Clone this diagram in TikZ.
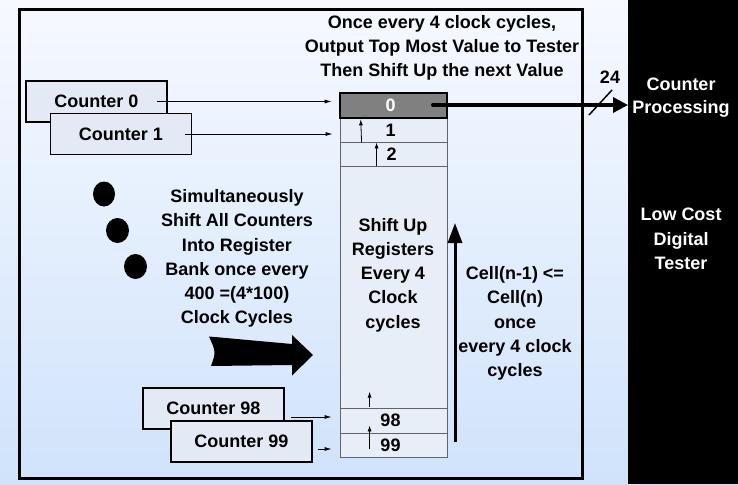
\documentclass[tikz,border=0pt]{standalone}
\usepackage{fontspec}
\setmainfont{Liberation Sans}
\usetikzlibrary{arrows.meta}
\definecolor{bgtop}{RGB}{246,249,255}
\definecolor{bgbot}{RGB}{208,227,251}
\definecolor{boxfill}{RGB}{228,234,245}
\definecolor{cellfill}{RGB}{232,238,247}
\definecolor{celldraw}{RGB}{100,100,100}
\definecolor{topcell}{RGB}{128,128,128}
\begin{document}
\begin{tikzpicture}[x=1pt,y=-1pt,
  txt/.style={font=\fontsize{18}{24.3}\selectfont\bfseries, align=center, inner sep=0pt},
  counterbox/.style={draw=black, line width=1.6pt, fill=boxfill, minimum width=141pt, minimum height=41pt, inner sep=0pt, font=\fontsize{18}{20}\selectfont\bfseries},
  cell/.style={draw=celldraw, line width=0.8pt, fill=cellfill, minimum width=107pt, inner sep=0pt, font=\fontsize{18}{20}\selectfont\bfseries},
  thinarr/.style={line width=0.8pt, -{Latex[length=7pt,width=4pt]}},
  smallarr/.style={line width=0.8pt, -{Latex[length=6pt,width=4pt]}}]
\useasboundingbox (0,0) rectangle (738,484);
% background
\shade[top color=bgtop, bottom color=bgbot] (0,0) rectangle (738,484);
% tester panel
\fill[black] (628,0) rectangle (738,484);
% frame
\draw[line width=3pt] (19.5,9.5) rectangle (582.5,478.5);

% register cells
\node[cell, minimum height=24pt] (c1) at (393.5,130) {\makebox[0pt]{\hspace{-6pt}1}};
\node[cell, minimum height=24pt] (c2) at (393.5,154) {\makebox[0pt]{\hspace{-4pt}2}};
\node[cell, minimum height=242pt] (cb) at (393.5,287) {};
\node[cell, minimum height=25pt] (c98) at (393.5,420.5) {\makebox[0pt]{\hspace{-6pt}98}};
\node[cell, minimum height=24pt] (c99) at (393.5,445) {\makebox[0pt]{\hspace{-6pt}99}};
\node[cell, draw=black, line width=2.6pt, fill=topcell, text=white, minimum height=25pt] (c0) at (393.5,105.5) {\makebox[0pt]{\hspace{-6pt}0}};

% small shift arrows
\draw[smallarr] ([xshift=22pt]c1.south west) -- ([xshift=22pt]c0.south west);
\draw[smallarr] ([xshift=37pt]c2.south west) -- ([xshift=37pt]c1.south west);
\draw[smallarr] ([xshift=30pt,yshift=1pt]c98.north west) -- ++(0,-15);
\draw[smallarr] ([xshift=30pt,yshift=8pt]c99.south west) -- ++(0,-24);

% counters
\node[counterbox] (cnt0) at (96.5,101.5) {};
\node[txt] (cnt0t) at (96.5,101.5) {Counter 0};
\node[counterbox] (cnt1) at (121,134) {Counter 1};
\node[counterbox] (cnt98) at (213.5,408.5) {};
\node[txt] (cnt98t) at (213.5,408.5) {Counter 98};
\node[counterbox] (cnt99) at (241.5,441.5) {Counter 99};

% counter arrows
\coordinate (a0s) at (157,101.5);
\draw[thinarr, shorten >=7pt] (a0s) -- (a0s -| c0.west);
\coordinate (a1s) at (185,134);
\draw[thinarr, shorten >=7pt] (a1s) -- (a1s -| c1.west);
\coordinate (a98s) at (291,417);
\draw[thinarr, shorten >=8pt] (a98s) -- (a98s -| c98.west);
\coordinate (a99s) at (318,449);
\draw[thinarr, shorten >=8pt] (a99s) -- (a99s -| c99.west);

% output arrow
\coordinate (outs) at (433,105);
\coordinate (oute) at (628,105);
\fill (outs) circle (2pt);
\draw[line width=3.5pt, -{Triangle[length=15pt,width=15pt]}] (outs) -- (oute);
\draw[line width=1.5pt] (589,115) -- (612,90);
\node[txt] (w24) at (610,77) {24};

% texts
\node[txt] (toptxt) at (442,48) {Once every 4 clock cycles,\\Output Top Most Value to Tester\\Then Shift Up the next Value};
\node[txt] (midtxt) at (237,258.5) {Simultaneously\\Shift All Counters\\Into Register\\Bank once every\\400 =(4*100)\\Clock Cycles};
\node[txt] (shifttxt) at (393,275) {Shift Up\\Registers\\Every 4\\Clock\\cycles};
\node[txt] (celltxt) at (515,323.5) {Cell(n-1) <=\\Cell(n)\\once\\every 4 clock\\cycles};
\node[txt, text=white, font=\fontsize{18}{23}\selectfont\bfseries] (cproc) at (681,97.5) {Counter\\Processing};
\node[txt, text=white] (lowcost) at (681,239) {Low Cost\\Digital\\Tester};

% big up arrow
\coordinate (ups) at (455,442);
\coordinate (upe) at (455,223);
\draw[line width=3pt, -{Triangle[length=20pt,width=14pt]}] (ups) -- (upe);

% dots
\fill (104,194) ellipse (11pt and 12.5pt);
\fill (117.5,230.5) ellipse (11.5pt and 12.5pt);
\fill (135.5,266.5) ellipse (11.5pt and 12.5pt);

% block arrow
\fill (209,336.5) -- (292,344) -- (292,335) -- (313,355) -- (292,375.5) -- (292,365) -- (211,366) .. controls (216,352) .. (209,336.5) -- cycle;
\end{tikzpicture}
\end{document}
